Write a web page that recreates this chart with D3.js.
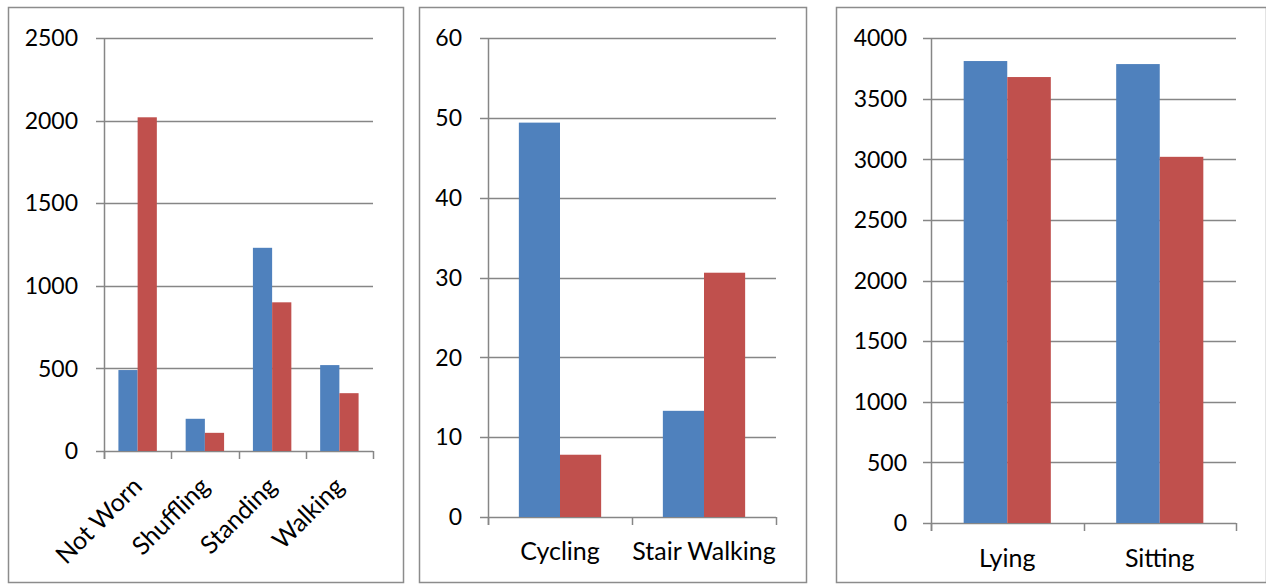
<!DOCTYPE html>
<html>
<head>
<meta charset="utf-8">
<script src="https://cdn.jsdelivr.net/npm/d3@7"></script>
<style>
  html, body { margin: 0; padding: 0; background: #fff; }
  svg { display: block; }
  text { font-family: Lato, "Open Sans", sans-serif; fill: #000; }
</style>
</head>
<body>
<svg id="chart" width="1266" height="586"></svg>
<script>
// Activity durations, two series per panel (blue, red)
const activitiesA = ["Not Worn", "Shuffling", "Standing", "Walking"];
const blueA = [490, 195, 1230, 520];
const redA  = [2020, 110, 900, 350];
const ticksA = [0, 500, 1000, 1500, 2000, 2500];

const activitiesB = ["Cycling", "Stair Walking"];
const blueB = [49.4, 13.3];
const redB  = [7.8, 30.6];
const ticksB = [0, 10, 20, 30, 40, 50, 60];

const activitiesC = ["Lying", "Sitting"];
const blueC = [3810, 3785];
const redC  = [3678, 3020];
const ticksC = [0, 500, 1000, 1500, 2000, 2500, 3000, 3500, 4000];

const seriesColors = ["#4F81BD", "#C0504D"];
const gridColor = "#868686";
const tickFont = 23;
const catFont = 25;

const svg = d3.select("#chart");

function panel(opts) {
  const g = svg.append("g");
  // outer frame
  g.append("rect")
    .attr("x", opts.frame[0] + 0.5).attr("y", opts.frame[1] + 0.5)
    .attr("width", opts.frame[2] - opts.frame[0]).attr("height", opts.frame[3] - opts.frame[1])
    .attr("fill", "none").attr("stroke", "#8c8c8c").attr("stroke-width", 1.5);

  const x = d3.scaleBand().domain(opts.cats).range([opts.left, opts.right]).paddingInner(0).paddingOuter(0);
  const y = d3.scaleLinear().domain([0, d3.max(opts.ticks)]).range([opts.bottom, opts.top]);

  // horizontal gridlines with outward ticks on the left
  g.append("g").selectAll("line").data(opts.ticks).join("line")
    .attr("x1", opts.left - 8).attr("x2", opts.right)
    .attr("y1", d => Math.round(y(d)) + 0.5).attr("y2", d => Math.round(y(d)) + 0.5)
    .attr("stroke", gridColor).attr("stroke-width", 1.5);

  // y tick labels
  g.append("g").selectAll("text").data(opts.ticks).join("text")
    .attr("x", opts.left - opts.labelGap)
    .attr("y", d => y(d))
    .attr("dy", "0.36em")
    .attr("text-anchor", "end")
    .style("font-size", tickFont + "px")
    .text(d => d);

  // vertical axis line
  g.append("line")
    .attr("x1", opts.left + 0.5).attr("x2", opts.left + 0.5)
    .attr("y1", opts.top).attr("y2", opts.bottom + 8)
    .attr("stroke", gridColor).attr("stroke-width", 1.5);

  // category boundary ticks
  const bounds = opts.cats.map(c => x(c)).concat([opts.right]);
  g.append("g").selectAll("line").data(bounds).join("line")
    .attr("x1", d => Math.round(d) + 0.5).attr("x2", d => Math.round(d) + 0.5)
    .attr("y1", opts.bottom).attr("y2", opts.bottom + 8)
    .attr("stroke", gridColor).attr("stroke-width", 1.5);

  // bars: gap width 150% of a bar, two bars per category
  const bw = x.bandwidth() / 3.5;
  const inner = d3.scaleBand().domain([0, 1]).range([bw * 0.75, bw * 2.75]);
  const rows = opts.cats.map((c, i) => ({ c, vals: [opts.blue[i], opts.red[i]] }));
  const grp = g.append("g").selectAll("g").data(rows).join("g")
    .attr("transform", d => `translate(${x(d.c)},0)`);
  grp.selectAll("rect").data(d => d.vals.map((v, k) => ({ v, k }))).join("rect")
    .attr("x", d => inner(d.k))
    .attr("width", inner.bandwidth())
    .attr("y", d => y(d.v))
    .attr("height", d => y(0) - y(d.v))
    .attr("fill", d => seriesColors[d.k]);

  // category labels
  const lab = g.append("g").selectAll("text").data(opts.cats).join("text")
    .style("font-size", catFont + "px")
    .text(d => d);
  if (opts.rotate) {
    lab.attr("text-anchor", "end")
      .attr("transform", d => `translate(${x(d) + x.bandwidth() / 2 + 6},${opts.bottom + 37}) rotate(-45)`);
  } else {
    lab.attr("text-anchor", "middle")
      .attr("x", d => x(d) + x.bandwidth() / 2)
      .attr("y", opts.bottom + opts.catOffset);
  }
}

panel({ frame: [8, 7, 403, 582], cats: activitiesA, blue: blueA, red: redA, ticks: ticksA,
        left: 104, right: 373, top: 38, bottom: 451, labelGap: 26, rotate: true });
panel({ frame: [419, 7, 806, 582], cats: activitiesB, blue: blueB, red: redB, ticks: ticksB,
        left: 488, right: 776, top: 38, bottom: 517, labelGap: 26, catOffset: 43 });
panel({ frame: [836, 7, 1266, 582], cats: activitiesC, blue: blueC, red: redC, ticks: ticksC,
        left: 931, right: 1236, top: 38, bottom: 523, labelGap: 24, catOffset: 44 });
</script>
</body>
</html>
